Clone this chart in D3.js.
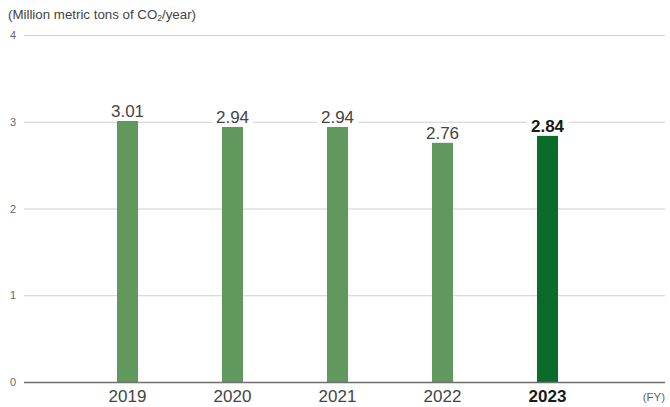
<!DOCTYPE html>
<html><head><meta charset="utf-8">
<script src="https://cdn.jsdelivr.net/npm/d3@7"></script>
<style>body{margin:0;background:#fff}svg{display:block;font-family:"Liberation Sans",Arial,sans-serif}</style>
</head><body><svg id="c" width="670" height="407"></svg>
<script>
const years = ["2019","2020","2021","2022","2023"];
const values = [3.01, 2.94, 2.94, 2.76, 2.84];
const valueLabels = ["3.01","2.94","2.94","2.76","2.84"];
const yTicks = [0,1,2,3,4];
const highlightYear = "2023";
const unitLabel = "(Million metric tons of CO";
const fyLabel = "(FY)";

const svg = d3.select("#c");
const x = d3.scaleBand().domain(years).range([75, 600]);
const y = d3.scaleLinear().domain([0, 4]).range([382, 35]);
const gridX0 = 24, gridX1 = 665;

svg.append("g").selectAll("line").data(yTicks.filter(d => d > 0)).join("line")
  .attr("x1", gridX0).attr("x2", gridX1)
  .attr("y1", d => y(d) + 0.5).attr("y2", d => y(d) + 0.5)
  .attr("stroke", "#cfcfcf").attr("stroke-width", 1);

svg.append("g").selectAll("text").data(yTicks).join("text")
  .attr("x", 13).attr("y", d => y(d) + 4)
  .attr("text-anchor", "middle").attr("font-size", 11).attr("fill", "#666")
  .text(d => d);

const bw = 21;
svg.append("g").selectAll("rect").data(years).join("rect")
  .attr("x", d => x(d) + x.bandwidth()/2 - bw/2)
  .attr("y", (d,i) => y(values[i]))
  .attr("width", bw)
  .attr("height", (d,i) => y(0) - y(values[i]))
  .attr("fill", d => d === highlightYear ? "#0b6b2b" : "#60985d");

svg.append("line").attr("x1", gridX0).attr("x2", gridX1)
  .attr("y1", y(0) + 0.5).attr("y2", y(0) + 0.5)
  .attr("stroke", "#6f6f6f").attr("stroke-width", 1.3);

const lg = svg.append("g").selectAll("g").data(years).join("g");
lg.each(function(d, i) {
  const g = d3.select(this);
  const cx = x(d) + x.bandwidth()/2;
  const isH = d === highlightYear;
  const t = g.append("text")
    .attr("x", cx).attr("y", y(values[i]) - 4)
    .attr("text-anchor", "middle").attr("font-size", 17)
    .attr("font-weight", isH ? "bold" : "normal")
    .attr("fill", isH ? "#1a1a1a" : "#444")
    .text(valueLabels[i]);
  const bb = t.node().getBBox();
  g.insert("rect", "text").attr("x", bb.x - 4).attr("y", bb.y).attr("width", bb.width + 8).attr("height", bb.height)
    .attr("fill", "#fff");
});

svg.append("g").selectAll("text").data(years).join("text")
  .attr("x", d => x(d) + x.bandwidth()/2).attr("y", 402)
  .attr("text-anchor", "middle").attr("font-size", 17)
  .attr("font-weight", d => d === highlightYear ? "bold" : "normal")
  .attr("fill", d => d === highlightYear ? "#1a1a1a" : "#444")
  .text(d => d);

svg.append("text").attr("x", 665).attr("y", 401).attr("text-anchor", "end")
  .attr("font-size", 11.5).attr("fill", "#666").text(fyLabel);

const ut = svg.append("text").attr("x", 8).attr("y", 19).attr("font-size", 13.3).attr("fill", "#444");
ut.append("tspan").text(unitLabel);
ut.append("tspan").attr("font-size", 8.5).attr("dy", 2).text("2");
ut.append("tspan").attr("dy", -2).text("/year)");
</script></body></html>
